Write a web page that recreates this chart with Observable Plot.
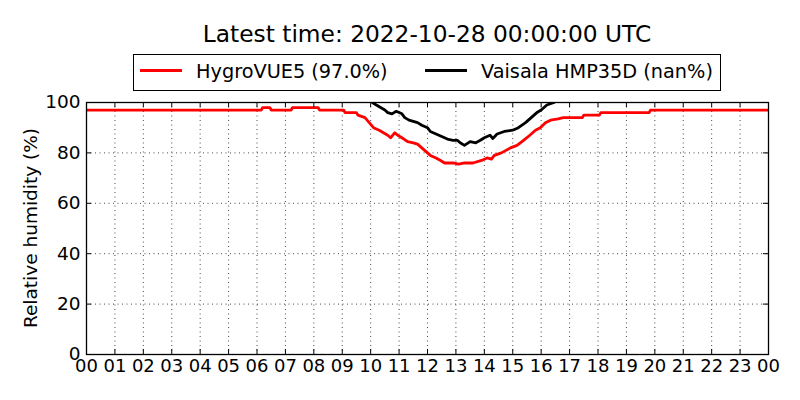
<!DOCTYPE html>
<html>
<head>
<meta charset="utf-8">
<script src="https://cdn.jsdelivr.net/npm/d3@7"></script>
<script src="https://cdn.jsdelivr.net/npm/@observablehq/plot@0.6"></script>
<style>
  body { margin: 0; background: white; font-family: "DejaVu Sans", sans-serif; }
  #wrap { position: relative; width: 800px; height: 400px; overflow: hidden; }
  #title { position: absolute; left: 86px; width: 682px; top: 20px; text-align: center; font-size: 23.3px; color: black; white-space: nowrap; }
  #legend { position: absolute; left: 133px; top: 54px; width: 586px; height: 35px; border: 1px solid black; background: white; font-size: 19.3px; }
  .item { position: absolute; top: 5px; white-space: nowrap; }
  .swatch { display: inline-block; width: 42px; height: 3px; vertical-align: middle; margin-right: 14px; position: relative; top: -2px; }
  #ylabel { position: absolute; left: 30px; top: 228px; transform: translate(-50%, -50%) rotate(-90deg); font-size: 18.5px; white-space: nowrap; }
</style>
</head>
<body>
<div id="wrap">
  <div id="chart"></div>
  <div id="title"></div>
  <div id="legend"></div>
  <div id="ylabel"></div>
</div>
<script>
const titleText = "Latest time: 2022-10-28 00:00:00 UTC";
const yLabel = "Relative humidity (%)";
const seriesNames = ["HygroVUE5 (97.0%)", "Vaisala HMP35D (nan%)"];
const seriesColors = ["red", "black"];

const hourTicks = d3.range(0, 25);
const hourLabels = ["00","01","02","03","04","05","06","07","08","09","10","11","12","13","14","15","16","17","18","19","20","21","22","23","00"];
const yTicks = [0, 20, 40, 60, 80, 100];

// HygroVUE5 (hours since 00 UTC, RH %)
const hygroHours = [0, 6.15, 6.2, 6.45, 6.5, 7.2, 7.25, 8.15, 8.2, 9.05, 9.1, 9.5, 9.55, 9.8, 9.95, 10.1, 10.3, 10.45, 10.6, 10.7, 10.85, 10.95, 11.1, 11.3, 11.5, 11.65, 11.8, 12.0, 12.1, 12.3, 12.46, 12.6, 12.9, 13.1, 13.3, 13.6, 13.9, 14.1, 14.25, 14.35, 14.6, 14.92, 15.15, 15.38, 15.6, 15.8, 15.97, 16.15, 16.33, 16.6, 16.78, 17.45, 17.5, 18.05, 18.1, 19.8, 19.85, 24];
const hygroValues = [97, 97, 98, 98, 97, 97, 98, 98, 97, 97, 96, 96, 95, 94, 92, 90, 89, 88, 87, 86, 88, 87, 86, 84.5, 84, 83.5, 82, 80, 79, 78, 77, 76, 76, 75.5, 76, 76, 77, 78, 77.5, 79, 80, 82, 83, 85, 87, 89, 90, 92, 93, 93.5, 94, 94, 95, 95, 96, 96, 97, 97];

// Vaisala HMP35D
const vaisalaHours = [10.06, 10.2, 10.35, 10.5, 10.6, 10.75, 10.9, 11.1, 11.2, 11.35, 11.5, 11.65, 11.8, 12.0, 12.1, 12.3, 12.5, 12.7, 12.9, 13.05, 13.15, 13.3, 13.5, 13.7, 13.86, 14.0, 14.2, 14.3, 14.45, 14.7, 15.0, 15.2, 15.45, 15.65, 15.85, 16.0, 16.2, 16.45];
const vaisalaValues = [100, 99, 98, 97, 96, 95.5, 96.5, 95.5, 94, 93, 92.5, 92, 91, 90, 88.5, 87.5, 86.5, 85.5, 85, 85, 84, 83, 84.5, 84, 85, 86, 87, 85.7, 87.5, 88.5, 89, 90, 92, 94, 96, 97, 99, 100];

const hygro = hygroHours.map((h, i) => ({h, v: hygroValues[i]}));
const vaisala = vaisalaHours.map((h, i) => ({h, v: vaisalaValues[i]}));

const gridStyle = {stroke: "black", strokeOpacity: 0.9, strokeWidth: 0.8, strokeDasharray: "1,3.5"};

const chart = Plot.plot({
  width: 800,
  height: 400,
  marginLeft: 86,
  marginRight: 32,
  marginTop: 102,
  marginBottom: 46,
  style: {fontFamily: "DejaVu Sans", fontSize: "18px", background: "white", color: "black"},
  x: {domain: [0, 24]},
  y: {domain: [0, 100]},
  marks: [
    Plot.gridX(hourTicks.slice(1, -1), gridStyle),
    Plot.gridY(yTicks.slice(1, -1), gridStyle),
    Plot.line(hygro, {x: "h", y: "v", stroke: seriesColors[0], strokeWidth: 2.8, clip: true}),
    Plot.line(vaisala, {x: "h", y: "v", stroke: seriesColors[1], strokeWidth: 2.8, clip: true}),
    // inward ticks
    Plot.ruleX(hourTicks, {x: d => d, y1: 0, y2: 2, stroke: "black", strokeWidth: 1}),
    Plot.ruleX(hourTicks, {x: d => d, y1: 98, y2: 100, stroke: "black", strokeWidth: 1}),
    Plot.ruleY(yTicks, {y: d => d, x1: 0, x2: 0.18, stroke: "black", strokeWidth: 1}),
    Plot.ruleY(yTicks, {y: d => d, x1: 23.82, x2: 24, stroke: "black", strokeWidth: 1}),
    Plot.axisX(hourTicks, {tickSize: 0, tickPadding: 5, tickFormat: (d, i) => hourLabels[i], label: null, fontSize: 18}),
    Plot.axisY(yTicks, {tickSize: 0, tickPadding: 6, label: null, fontSize: 18.5}),
    Plot.frame({stroke: "black", strokeWidth: 1.3})
  ]
});
document.getElementById("chart").appendChild(chart);

document.getElementById("title").textContent = titleText;
document.getElementById("ylabel").textContent = yLabel;
const legend = document.getElementById("legend");
const lefts = [6, 291];
seriesNames.forEach((name, i) => {
  const item = document.createElement("div");
  item.className = "item";
  item.style.left = lefts[i] + "px";
  const sw = document.createElement("span");
  sw.className = "swatch";
  sw.style.background = seriesColors[i];
  item.appendChild(sw);
  item.appendChild(document.createTextNode(name));
  legend.appendChild(item);
});
</script>
</body>
</html>
